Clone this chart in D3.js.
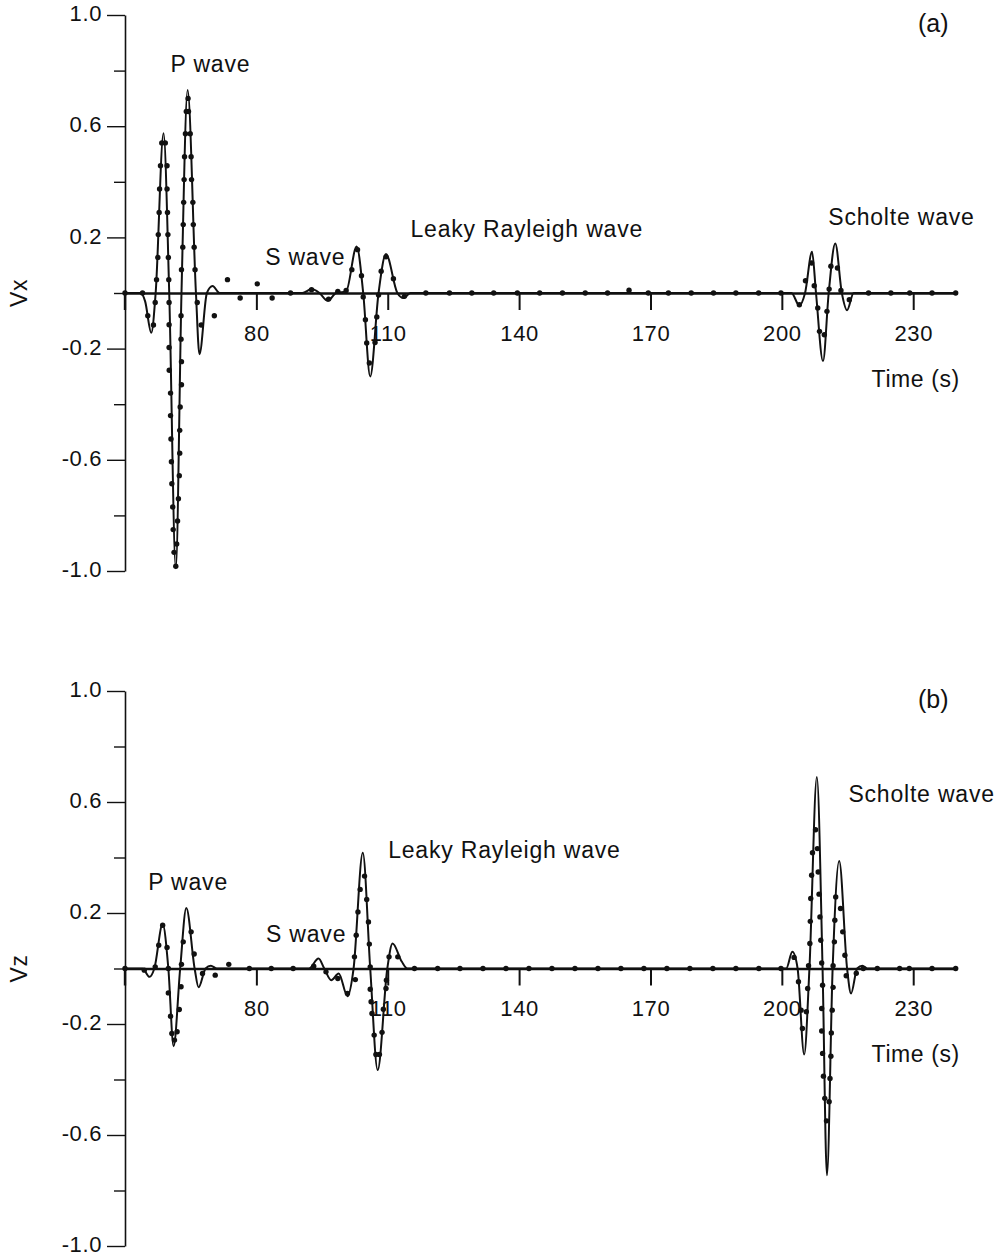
<!DOCTYPE html>
<html>
<head>
<meta charset="utf-8">
<script src="https://cdn.jsdelivr.net/npm/d3@7"></script>
<style>
  html, body { margin: 0; padding: 0; background: #fff; }
  svg { display: block; }
  text { font-family: "Liberation Sans", Arial, Helvetica, sans-serif; fill: #111; }
</style>
</head>
<body>
<svg id="chart" width="998" height="1257"></svg>
<script>
// ---------------- DATA ----------------
const timeDomain = [50, 240];
const timeTicks = [80, 110, 140, 170, 200, 230];
const vTicksMajor = [1.0, 0.6, 0.2, -0.2, -0.6, -1.0];
const vTicksMinor = [0.8, 0.4, 0, -0.4, -0.8];

// (a) Vx — solid line (analytic)
const vxLineT = [50, 53.6, 54.6, 56.0, 57.0, 58.8, 60.1, 61.6, 62.9, 64.3, 66.2, 67.0, 68.7, 70.0, 71.6,
  90.5, 92.6, 94.4, 96.3, 98.2, 100.5, 102.9, 104.4, 106.0, 107.9, 109.6, 112.2, 113.6, 115.2,
  202.2, 204.0, 205.3, 206.9, 207.8, 209.4, 210.7, 212.2, 213.7, 214.9, 216.4, 240];
const vxLineV = [0, 0, -0.03, -0.143, 0, 0.575, 0, -0.99, 0, 0.73, 0, -0.22, 0, 0.025, 0,
  0, 0.014, 0, -0.028, 0, 0.006, 0.167, 0, -0.30, 0, 0.14, 0, -0.018, 0,
  0, -0.045, 0, 0.148, 0, -0.245, 0, 0.178, 0, -0.062, 0, 0];

// (a) Vx — dots (numerical)
const vxDotT = [50, 54.0, 55.2, 56.5, 56.9, 57.2, 57.5, 57.6, 57.8, 57.9, 58.1, 58.4, 59.2, 59.6, 59.6, 59.7, 59.8, 59.9, 60.0,
  60.07, 60.07, 60.07, 60.1, 60.4, 60.4, 60.5, 60.6, 60.7, 60.9, 61.0, 61.2, 61.6, 61.8, 62.0, 62.2, 62.4, 62.5, 62.5, 62.6, 62.9, 62.9, 62.8, 62.8,
  62.9, 63.2, 63.3, 63.4, 63.5, 63.6, 63.8, 64.0, 64.4, 64.5, 64.9, 65.1, 65.2, 65.5, 65.6, 65.8, 66.0, 66.5, 67.4,
  70.4, 73.4, 76.3, 80.2, 83.6, 87.8, 92.6, 96.5, 98.6, 100.5, 101.8, 103.1, 104.0, 104.4, 104.9, 105.2, 105.8,
  107.1, 107.5, 107.9, 108.5, 109.6, 111.3, 113.8, 118.7, 124.1, 129.2, 134.2, 139.6, 144.7, 149.9, 155.1, 160.2,
  165.1, 169.5, 174.1, 179.3, 184.4, 189.5, 194.7, 199.8, 204.0, 205.4, 206.8, 207.4, 208.2, 208.6, 209.7, 210.3,
  210.8, 211.2, 212.7, 213.5, 215.4, 219.8, 224.9, 229.2, 234.3, 239.7];
const vxDotV = [0, 0, -0.082, -0.115, -0.034, 0.048, 0.128, 0.21, 0.29, 0.374, 0.458, 0.54, 0.54, 0.458, 0.374, 0.29, 0.21, 0.128, 0.048,
  -0.034, -0.114, -0.196, -0.278, -0.36, -0.441, -0.525, -0.607, -0.686, -0.77, -0.851, -0.933, -0.983, -0.903, -0.82, -0.74, -0.657, -0.576, -0.494, -0.41, -0.33, -0.247, -0.166, -0.082,
  0.084, 0.165, 0.246, 0.326, 0.408, 0.49, 0.573, 0.653, 0.70, 0.653, 0.573, 0.49, 0.408, 0.326, 0.246, 0.165, 0.084, -0.034, -0.115,
  -0.082, 0.048, -0.018, 0.033, -0.018, 0, 0.012, -0.022, 0.006, 0.009, 0.084, 0.156, 0.062, -0.014, -0.096, -0.18, -0.252,
  -0.178, -0.086, -0.007, 0.078, 0.13, 0.051, -0.012, 0, 0, 0, 0, 0, 0, 0, 0, 0,
  0.01, 0, 0, 0, 0, 0, 0, 0, -0.042, 0.044, 0.108, 0.026, -0.054, -0.138, -0.15, -0.066,
  0.014, 0.096, 0.09, 0.009, -0.024, 0, 0, 0, 0, 0];

// (b) Vz — solid line (analytic)
const vzLineT = [50, 54.0, 55.6, 56.7, 58.6, 59.9, 61.1, 62.6, 64.0, 65.9, 66.8, 68.4, 69.6, 71.0,
  92.0, 94.2, 95.5, 97.1, 98.8, 100.8, 102.2, 104.3, 106.0, 107.7, 109.9, 111.1, 113.2, 114.5,
  201.0, 202.4, 203.6, 205.1, 206.3, 208.0, 209.3, 210.3, 211.6, 213.1, 214.9, 215.8, 217.2, 218.4, 219.5, 240];
const vzLineV = [0, 0, -0.03, 0, 0.16, 0, -0.28, 0, 0.218, 0, -0.068, 0, 0.01, 0,
  0, 0.036, 0, -0.042, -0.018, -0.1, 0, 0.417, 0, -0.366, 0, 0.09, 0.025, 0,
  0, 0.06, 0, -0.31, 0, 0.69, 0, -0.745, 0, 0.387, 0, -0.09, 0, 0.01, 0, 0];

// (b) Vz — dots (numerical)
const vzDotT = [50, 54.4, 56.9, 57.7, 58.6, 59.6, 59.9, 59.9, 60.4, 60.7, 61.3, 61.9, 62.4, 62.8, 62.9, 63.3, 65.1, 65.8,
  67.7, 70.6, 73.7, 78.4, 83.4, 88.4, 93.1, 95.9, 98.6, 100.8, 102.6, 102.4, 102.8, 103.2, 103.7, 104.7, 105.2, 105.6, 105.8,
  106.0, 106.0, 106.2, 106.4, 106.9, 107.3, 108.1, 108.7, 109.0, 109.6, 109.7, 110.3, 112.3, 116.1, 121.4,
  126.5, 131.75, 137.0, 142.25, 147.5, 152.75, 158.0, 163.25, 168.5, 173.75, 179.0, 184.25, 189.5, 194.75, 199.8,
  202.8, 203.8, 204.4, 204.7, 205.6, 205.9, 206.1, 206.4, 206.5, 206.6, 206.8, 207.0, 207.7, 208.1, 208.3, 208.5, 208.7, 208.9, 209.1,
  209.3, 209.1, 209.1, 209.3, 209.5, 209.8, 210.2, 210.8, 211.0, 211.2, 211.3, 211.5, 211.7,
  211.7, 212.0, 212.1, 212.3, 213.4, 213.9, 214.4, 214.7, 217.0, 218.6, 221.8, 226.9, 229.1, 234.3, 239.7];
const vzDotV = [0, -0.006, 0.006, 0.084, 0.156, 0.076, 0, -0.088, -0.172, -0.234, -0.258, -0.228, -0.148, -0.066, 0.015, 0.096, 0.132, 0.052,
  -0.018, -0.024, 0.015, 0, 0, 0, 0.008, -0.012, -0.036, -0.09, -0.04, 0.042, 0.12, 0.204, 0.285, 0.333, 0.249, 0.168, 0.088,
  0.006, -0.075, -0.12, -0.162, -0.24, -0.31, -0.31, -0.23, -0.147, -0.072, -0.042, 0.042, 0.042, 0, 0,
  0, 0, 0, 0, 0, 0, 0, 0, 0, 0, 0, 0, 0, 0, 0,
  0.04, -0.048, -0.15, -0.216, -0.156, -0.072, 0.01, 0.09, 0.17, 0.252, 0.336, 0.417, 0.5, 0.432, 0.348, 0.268, 0.186, 0.102, 0.02,
  -0.06, -0.144, -0.225, -0.306, -0.388, -0.468, -0.549, -0.48, -0.396, -0.316, -0.232, -0.15, -0.068,
  0.01, 0.096, 0.174, 0.258, 0.216, 0.132, 0.048, -0.026, -0.017, 0, 0, 0, 0, 0, 0];

const panelNames = ["(a)", "(b)"];
const yAxisLabels = ["Vx", "Vz"];
const xAxisLabel = "Time (s)";
const waveLabelsA = ["P wave", "S wave", "Leaky Rayleigh wave", "Scholte wave"];
const waveLabelsB = ["P wave", "S wave", "Leaky Rayleigh wave", "Scholte wave"];

// ---------------- DRAW ----------------
const svg = d3.select("#chart");
const FS = 22;      // tick labels
const FA = 23;      // annotations

const x = d3.scaleLinear().domain(timeDomain).range([125, 957]);

function drawPanel(cfg) {
  const y = d3.scaleLinear().domain([-1, 1]).range([cfg.yBottom, cfg.yTop]);
  const g = svg.append("g");

  // y axis: minor ticks
  g.append("g")
    .attr("transform", `translate(${x(timeDomain[0])},0)`)
    .call(d3.axisLeft(y).tickValues(vTicksMinor).tickSize(11).tickSizeOuter(0).tickFormat(""))
    .call(s => s.select(".domain").remove())
    .call(s => s.selectAll("line").attr("stroke", "#111").attr("stroke-width", 1.4));
  // y axis: major ticks
  const ya = g.append("g")
    .attr("transform", `translate(${x(timeDomain[0])},0)`)
    .call(d3.axisLeft(y).tickValues(vTicksMajor).tickSize(18).tickSizeOuter(0).tickPadding(5)
      .tickFormat(d => d.toFixed(1)));
  ya.select(".domain").attr("stroke", "#111").attr("stroke-width", 1.6);
  ya.selectAll("line").attr("stroke", "#111").attr("stroke-width", 1.4);
  ya.selectAll("text").attr("font-size", FS).attr("letter-spacing", 0.6).attr("dy", "0.26em")
    .attr("font-family", "'Liberation Sans', Arial, sans-serif").attr("fill", "#111");

  // x axis on zero line
  const xa = g.append("g")
    .attr("transform", `translate(0,${y(0)})`)
    .call(d3.axisBottom(x).tickValues(timeTicks).tickSize(17).tickSizeOuter(0).tickPadding(15)
      .tickFormat(d3.format("d")));
  xa.select(".domain").attr("stroke", "#111").attr("stroke-width", 2.6);
  xa.selectAll("line").attr("stroke", "#111").attr("stroke-width", 2);
  xa.selectAll("text").attr("font-size", FS).attr("letter-spacing", 0.6)
    .attr("font-family", "'Liberation Sans', Arial, sans-serif").attr("fill", "#111");
  // tick at origin (no label)
  g.append("line")
    .attr("x1", x(timeDomain[0])).attr("x2", x(timeDomain[0]))
    .attr("y1", y(0)).attr("y2", y(0) + 17)
    .attr("stroke", "#111").attr("stroke-width", 2.4);

  // solid curve
  const lineData = cfg.lineT.map((t, i) => [t, cfg.lineV[i]]);
  const line = d3.line().x(d => x(d[0])).y(d => y(d[1])).curve(d3.curveMonotoneX);
  g.append("path").datum(lineData)
    .attr("d", line).attr("fill", "none").attr("stroke", "#111").attr("stroke-width", 2);

  // dots
  const dotData = cfg.dotT.map((t, i) => [t, cfg.dotV[i]]);
  g.selectAll("circle.dot").data(dotData).join("circle")
    .attr("class", "dot")
    .attr("cx", d => x(d[0])).attr("cy", d => y(d[1])).attr("r", 2.7)
    .attr("fill", "#111");

  // y label
  g.append("text")
    .attr("transform", `translate(${27},${y(0)}) rotate(-90)`)
    .attr("text-anchor", "middle").attr("font-size", FA).attr("letter-spacing", 0.6)
    .text(cfg.yLabel);

  // panel name
  g.append("text").attr("x", x(231.1)).attr("y", y(0.94))
    .attr("font-size", 25).text(cfg.name);

  // x label
  g.append("text").attr("x", x(220.5)).attr("y", y(-0.338))
    .attr("font-size", FA).attr("letter-spacing", 0.6).text(xAxisLabel);

  // wave annotations
  cfg.labels.forEach((txt, i) => {
    const p = cfg.labelPos[i];
    g.append("text").attr("x", x(p[0])).attr("y", y(p[1]))
      .attr("font-size", FA).attr("letter-spacing", 0.8).text(txt);
  });
}

drawPanel({
  name: panelNames[0], yLabel: yAxisLabels[0], yTop: 15, yBottom: 571,
  lineT: vxLineT, lineV: vxLineV, dotT: vxDotT, dotV: vxDotV,
  labels: waveLabelsA,
  labelPos: [[60.4, 0.795], [82.0, 0.10], [115.2, 0.20], [210.6, 0.245]]
});
drawPanel({
  name: panelNames[1], yLabel: yAxisLabels[1], yTop: 691, yBottom: 1246,
  lineT: vzLineT, lineV: vzLineV, dotT: vzDotT, dotV: vzDotV,
  labels: waveLabelsB,
  labelPos: [[55.3, 0.283], [82.2, 0.097], [110.1, 0.40], [215.2, 0.60]]
});
</script>
</body>
</html>
